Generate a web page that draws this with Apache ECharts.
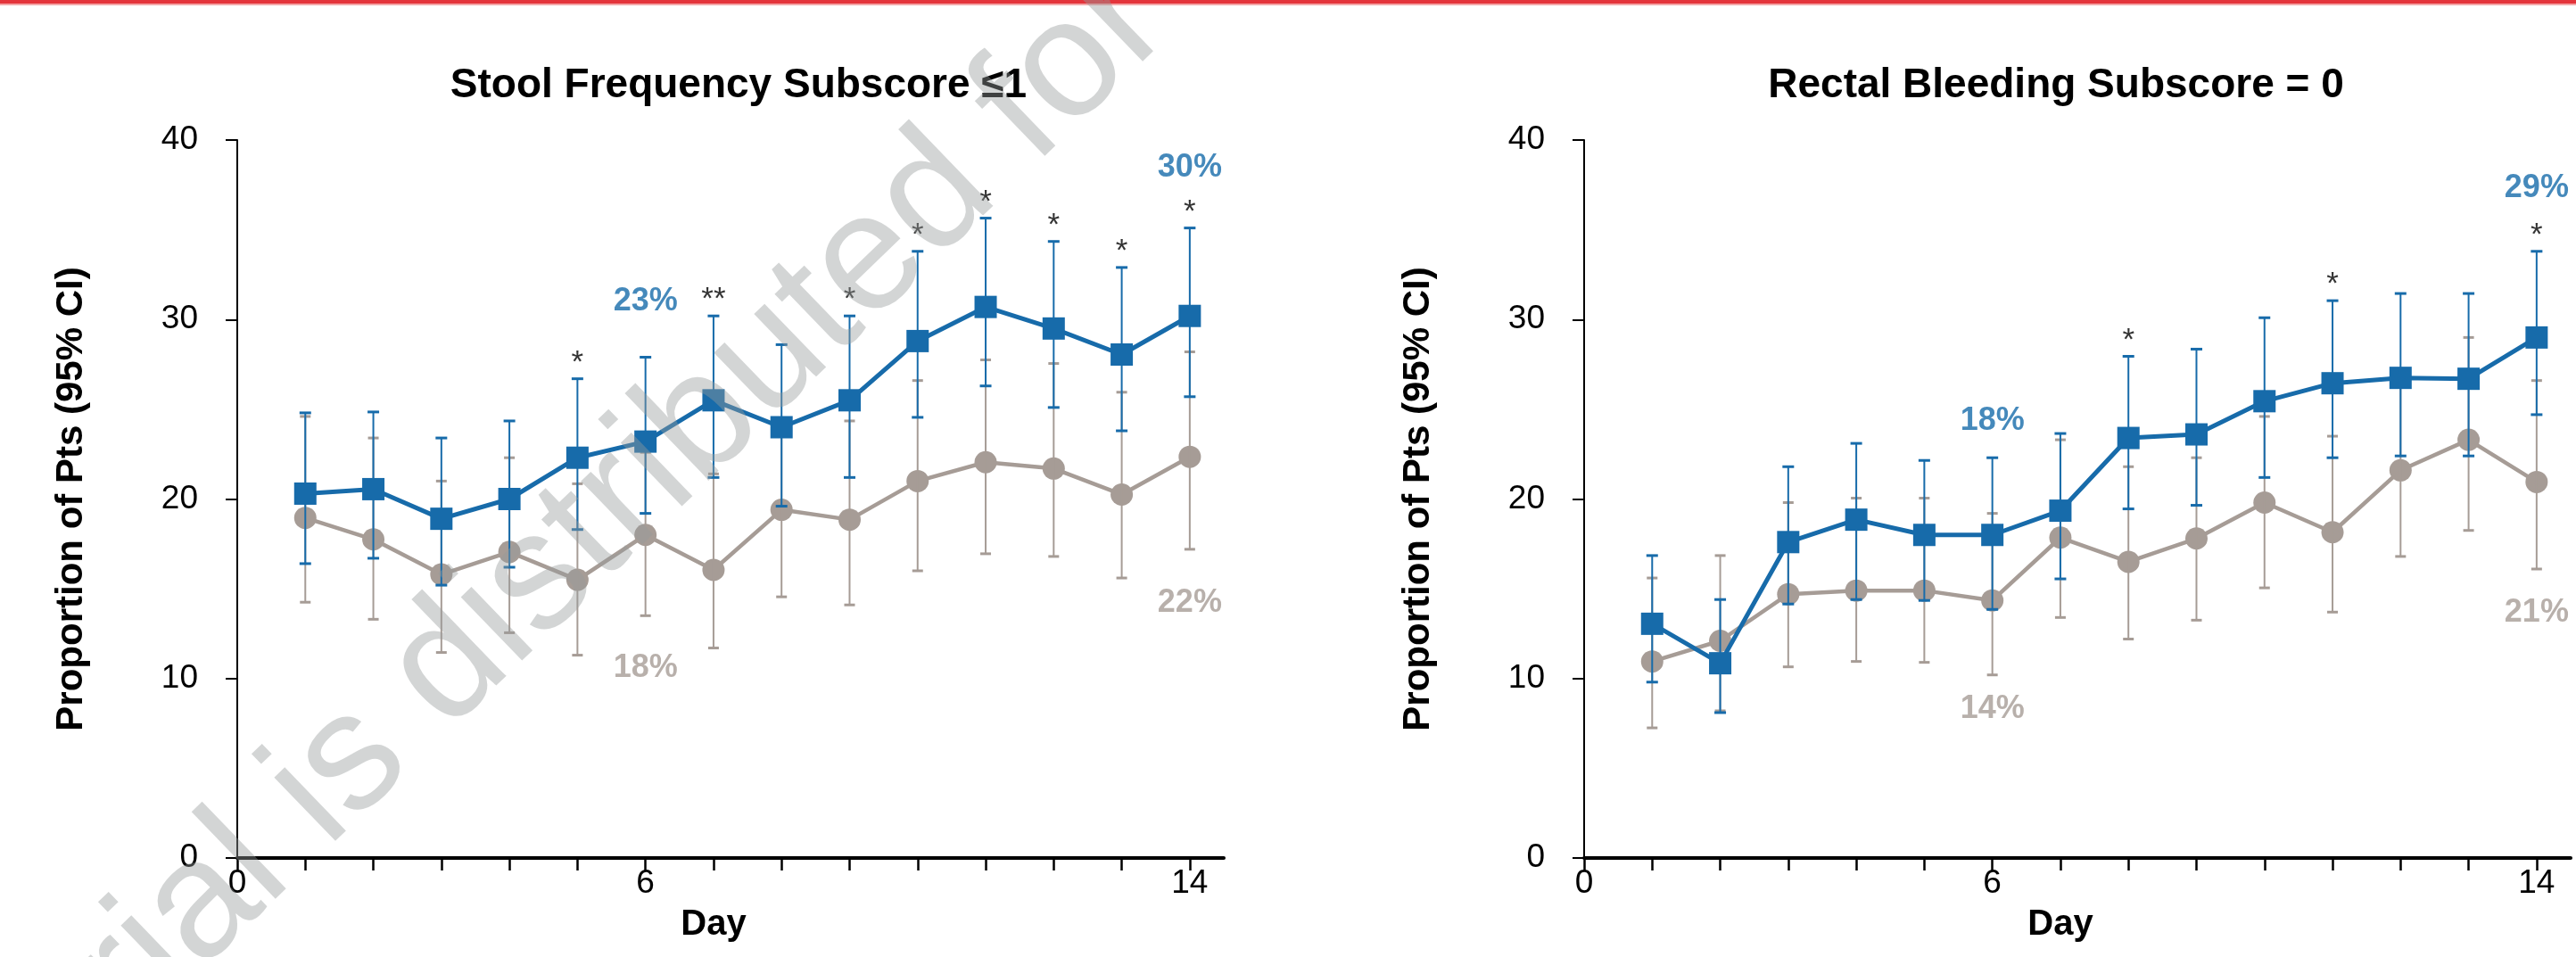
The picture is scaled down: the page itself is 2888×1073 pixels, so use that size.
<!DOCTYPE html>
<html><head><meta charset="utf-8">
<script src="https://cdn.jsdelivr.net/npm/echarts@6/dist/echarts.min.js"></script>
<style>html,body{margin:0;padding:0;background:#fff}#c{width:2888px;height:1073px}</style>
</head><body><div id="c"></div>
<script>
// ---------- data ----------
const days = [1,2,3,4,5,6,7,8,9,10,11,12,13,14];
const xTickValues = [0,1,2,3,4,5,6,7,8,9,10,11,12,13,14];
const xLabelValues = [0,6,14];
const yTicks = [0,10,20,30,40];

const titles = ['Stool Frequency Subscore \u22641', 'Rectal Bleeding Subscore = 0'];
const yName = 'Proportion of Pts (95% CI)';
const xName = 'Day';

// Stool frequency subscore <=1
const sfBlue   = [20.3, 20.55, 18.9, 20.0, 22.3, 23.2, 25.5, 24.0, 25.5, 28.8, 30.7, 29.5, 28.05, 30.2];
const sfBlueLo = [16.4, 16.7, 15.2, 16.2, 18.3, 19.2, 21.2, 19.6, 21.2, 24.55, 26.3, 25.1, 23.8, 25.7];
const sfBlueHi = [24.8, 24.85, 23.4, 24.35, 26.7, 27.9, 30.2, 28.6, 30.2, 33.8, 35.65, 34.35, 32.9, 35.1];
const sfGray   = [18.95, 17.75, 15.8, 17.05, 15.5, 18.0, 16.05, 19.4, 18.85, 21.0, 22.05, 21.7, 20.25, 22.35];
const sfGrayLo = [14.25, 13.3, 11.45, 12.55, 11.3, 13.5, 11.7, 14.55, 14.1, 16.0, 16.95, 16.8, 15.6, 17.2];
const sfGrayHi = [24.6, 23.4, 21.0, 22.3, 20.85, 22.6, 21.4, 24.2, 24.35, 26.6, 27.75, 27.55, 25.95, 28.2];
const sfStars  = ['', '', '', '', '*', '', '**', '', '*', '*', '*', '*', '*', '*'];
const sfBluePct = ['', '', '', '', '', '23%', '', '', '', '', '', '', '', '30%'];
const sfGrayPct = ['', '', '', '', '', '18%', '', '', '', '', '', '', '', '22%'];

// Rectal bleeding subscore = 0
const rbBlue   = [13.05, 10.85, 17.6, 18.85, 18.0, 18.0, 19.35, 23.4, 23.6, 25.45, 26.45, 26.75, 26.7, 29.0];
const rbBlueLo = [9.8, 8.1, 14.15, 14.4, 14.35, 13.85, 15.55, 19.45, 19.65, 21.2, 22.3, 22.4, 22.4, 24.7];
const rbBlueHi = [16.85, 14.4, 21.8, 23.1, 22.15, 22.3, 23.65, 27.95, 28.35, 30.1, 31.05, 31.45, 31.45, 33.8];
const rbGray   = [10.95, 12.1, 14.7, 14.9, 14.9, 14.35, 17.85, 16.5, 17.8, 19.8, 18.15, 21.6, 23.3, 20.95];
const rbGrayLo = [7.25, 8.2, 10.65, 10.95, 10.9, 10.2, 13.4, 12.2, 13.25, 15.05, 13.7, 16.8, 18.25, 16.1];
const rbGrayHi = [15.6, 16.85, 19.8, 20.05, 20.05, 19.2, 23.3, 21.8, 22.3, 24.6, 23.5, 26.4, 29.0, 26.6];
const rbStars  = ['', '', '', '', '', '', '', '*', '', '', '*', '', '', '*'];
const rbBluePct = ['', '', '', '', '', '18%', '', '', '', '', '', '', '', '29%'];
const rbGrayPct = ['', '', '', '', '', '14%', '', '', '', '', '', '', '', '21%'];

const watermark = 'material is distributed for';

// ---------- style ----------
const BLUE = '#176baa';
const GRAY = '#a69c96';
const FONT = '"Liberation Sans", Arial, Helvetica, sans-serif';

const panels = [
  {blue: sfBlue, blueLo: sfBlueLo, blueHi: sfBlueHi, gray: sfGray, grayLo: sfGrayLo, grayHi: sfGrayHi,
   stars: sfStars, bluePct: sfBluePct, grayPct: sfGrayPct,
   bluePctOff: {6: -62, 14: -68}, grayPctOff: {6: 59, 14: 60}},
  {blue: rbBlue, blueLo: rbBlueLo, blueHi: rbBlueHi, gray: rbGray, grayLo: rbGrayLo, grayHi: rbGrayHi,
   stars: rbStars, bluePct: rbBluePct, grayPct: rbGrayPct,
   bluePctOff: {6: -41, 14: -71}, grayPctOff: {6: 38, 14: 49}}
];

function errRender(color, capHalf, lw, capW) {
  return function (params, api) {
    const x = api.value(0), lo = api.value(1), hi = api.value(2);
    const a = api.coord([x, hi]), b = api.coord([x, lo]);
    return {type: 'group', children: [
      {type: 'line', shape: {x1: a[0], y1: a[1], x2: b[0], y2: b[1]}, style: {stroke: color, lineWidth: lw}},
      {type: 'line', shape: {x1: a[0] - capHalf, y1: a[1], x2: a[0] + capHalf, y2: a[1]}, style: {stroke: color, lineWidth: capW}},
      {type: 'line', shape: {x1: b[0] - capHalf, y1: b[1], x2: b[0] + capHalf, y2: b[1]}, style: {stroke: color, lineWidth: capW}}
    ]};
  };
}

const grids = [
  {left: 266, top: 157, width: 1106, height: 805},
  {left: 1776, top: 157, width: 1106, height: 805}
];
const xAxes = [], yAxes = [], series = [];
grids.forEach((g, gi) => {
  xAxes.push({
    type: 'value', gridIndex: gi, min: 0, max: 14.5,
    name: xName, nameLocation: 'middle', nameGap: 55,
    nameTextStyle: {fontFamily: FONT, fontWeight: 'bold', fontSize: 40, color: '#000', padding: [0, 38, 0, 0]},
    axisLine: {show: true, lineStyle: {color: '#000', width: 4}},
    axisTick: {show: true, length: 14, lineStyle: {color: '#000', width: 2.5}, customValues: xTickValues},
    axisLabel: {show: true, fontFamily: FONT, fontSize: 37, color: '#000', margin: 10, customValues: xLabelValues},
    splitLine: {show: false}
  });
  yAxes.push({
    type: 'value', gridIndex: gi, min: 0, max: 40, interval: 10,
    name: yName, nameLocation: 'middle', nameGap: 165, nameRotate: 90,
    nameTextStyle: {fontFamily: FONT, fontWeight: 'bold', fontSize: 42, color: '#000'},
    axisLine: {show: true, lineStyle: {color: '#000', width: 2}},
    axisTick: {show: true, length: 13, lineStyle: {color: '#000', width: 2}},
    axisLabel: {show: true, fontFamily: FONT, fontSize: 37, color: '#000', margin: 44,
      formatter: v => yTicks.includes(v) ? String(v) : ''},
    splitLine: {show: false}
  });
  const p = panels[gi];
  series.push({
    type: 'line', xAxisIndex: gi, yAxisIndex: gi, z: 2, animation: false,
    data: days.map((d, i) => [d, p.gray[i]]),
    symbol: 'circle', symbolSize: 25, showSymbol: true,
    lineStyle: {color: GRAY, width: 4.5}, itemStyle: {color: GRAY}
  });
  series.push({
    type: 'custom', xAxisIndex: gi, yAxisIndex: gi, z: 3, animation: false, silent: true,
    data: days.map((d, i) => [d, p.grayLo[i], p.grayHi[i]]),
    encode: {x: 0, y: [1, 2]},
    renderItem: errRender(GRAY, 6, 2, 3)
  });
  series.push({
    type: 'custom', xAxisIndex: gi, yAxisIndex: gi, z: 4, animation: false, silent: true,
    data: days.map((d, i) => [d, p.blueLo[i], p.blueHi[i]]),
    encode: {x: 0, y: [1, 2]},
    renderItem: errRender(BLUE, 6.5, 2, 3)
  });
  series.push({
    type: 'line', xAxisIndex: gi, yAxisIndex: gi, z: 5, animation: false,
    data: days.map((d, i) => [d, p.blue[i]]),
    symbol: 'rect', symbolSize: 25, showSymbol: true,
    lineStyle: {color: BLUE, width: 5}, itemStyle: {color: BLUE}
  });
  // significance stars
  series.push({
    type: 'scatter', xAxisIndex: gi, yAxisIndex: gi, z: 6, animation: false, silent: true,
    symbolSize: 0,
    data: days.map((d, i) => ({value: [d, p.blueHi[i]], name: p.stars[i]})).filter(o => o.name),
    label: {show: true, position: 'top', distance: 0, formatter: q => q.name,
      fontFamily: FONT, fontSize: 35, color: '#000'}
  });
  // percent annotations
  const pct = [];
  days.forEach((d, i) => {
    if (p.bluePct[i]) pct.push({value: [d, p.blueHi[i]], name: p.bluePct[i],
      label: {color: BLUE, offset: [0, p.bluePctOff[d]]}});
    if (p.grayPct[i]) pct.push({value: [d, p.grayLo[i]], name: p.grayPct[i],
      label: {color: GRAY, offset: [0, p.grayPctOff[d]]}});
  });
  series.push({
    type: 'scatter', xAxisIndex: gi, yAxisIndex: gi, z: 6, animation: false, silent: true,
    symbolSize: 0, data: pct,
    label: {show: true, position: 'inside', formatter: q => q.name,
      fontFamily: FONT, fontWeight: 'bold', fontSize: 36}
  });
});

const option = {
  backgroundColor: '#ffffff',
  animation: false,
  title: [
    {text: titles[0], left: 823, top: 68, textAlign: 'center',
     textStyle: {fontFamily: FONT, fontWeight: 'bold', fontSize: 46, color: '#000'}},
    {text: titles[1], left: 2300, top: 68, textAlign: 'center',
     textStyle: {fontFamily: FONT, fontWeight: 'bold', fontSize: 46, color: '#000'}}
  ],
  grid: grids,
  xAxis: xAxes,
  yAxis: yAxes,
  series: series,
  graphic: [
    {type: 'rect', left: 0, top: 0, shape: {width: 2888, height: 4}, style: {fill: '#e4343b'}, z: 100, silent: true},
    {type: 'rect', left: 0, top: 4, shape: {width: 2888, height: 2}, style: {fill: '#f4a6a8'}, z: 100, silent: true},
    {type: 'text', x: 548, y: 705, rotation: 44 * Math.PI / 180, z: 100, silent: true,
     style: {text: watermark, fontFamily: FONT, fontSize: 187, fill: 'rgba(150,156,156,0.42)',
       align: 'center', verticalAlign: 'middle'}}
  ]
};
const chart = echarts.init(document.getElementById('c'));
chart.setOption(option);
</script></body></html>
